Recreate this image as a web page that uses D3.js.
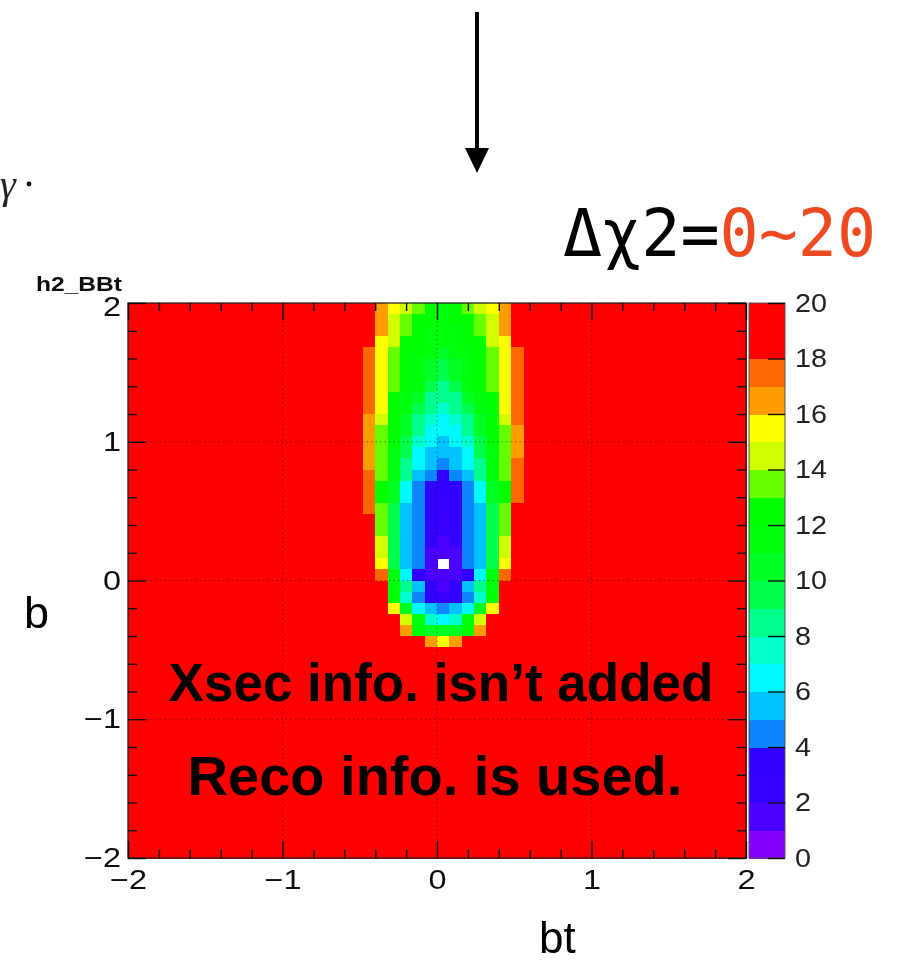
<!DOCTYPE html>
<html>
<head>
<meta charset="utf-8">
<script src="https://cdn.jsdelivr.net/npm/d3@7"></script>
<style>
  body { margin: 0; background: #fff; }
  svg { display: block; }
</style>
</head>
<body>
<svg id="chart" width="900" height="964"></svg>
<script>
// ---- Histogram h2_BBt : delta chi2 over (bt, b) ----
const btRange = [-2, 2];
const bRange = [-2, 2];
const nBins = 50;                 // bins per axis
const zMax = 20;                  // colour scale top; cells at or above it saturate
const firstTableCol = 18;         // bt bin index of the first column in chi2Rows
// Delta chi2 per bin, rows from b = 2 downwards, columns bt = -0.56 ... +0.64.
// Bins outside this table are at or above zMax.
const chi2Rows = [
  [20,20,16,15,14,13,12,11,12,13,14,15,16,20,20],
  [20,20,16,14,13,12,12,11,12,12,13,14,16,20,20],
  [20,20,16,14,13,12,11,11,11,12,13,14,16,20,20],
  [20,20,15,14,12,12,11,11,11,12,12,14,15,20,20],
  [20,17,15,13,12,11,11,10,11,11,12,13,15,17,20],
  [20,17,15,13,12,11,10, 9,10,11,12,13,15,17,20],
  [20,17,15,13,12,11,10, 9,10,11,12,13,15,17,20],
  [20,17,15,13,12,11, 9, 8, 9,11,12,13,15,17,20],
  [20,17,15,12,11,10, 8, 8, 8,10,11,12,15,17,20],
  [20,17,15,12,11, 9, 8, 7, 8, 9,11,12,15,17,20],
  [20,16,14,12,10, 8, 7, 6, 7, 8,10,12,14,17,20],
  [20,16,13,12,10, 8, 6, 6, 6, 8,10,12,13,16,20],
  [20,16,13,12, 9, 7, 6, 5, 6, 7, 9,12,13,16,20],
  [20,16,13,11, 9, 6, 5, 5, 5, 6, 9,11,13,16,20],
  [20,16,13,11, 8, 6, 5, 4, 5, 6, 8,11,13,17,20],
  [20,17,13,11, 8, 5, 4, 3, 4, 5, 8,11,13,17,20],
  [20,17,12,10, 6, 4, 3, 3, 3, 4, 6,10,12,17,20],
  [20,17,12,10, 6, 4, 3, 2, 3, 4, 6,10,12,17,20],
  [20,17,13, 9, 5, 4, 3, 2, 3, 4, 5, 9,13,20,20],
  [20,20,13, 9, 5, 4, 3, 2, 3, 4, 5, 9,13,20,20],
  [20,20,13, 9, 5, 4, 2, 2, 2, 4, 5, 9,13,20,20],
  [20,20,14, 9, 5, 4, 2, 1, 2, 4, 5, 9,14,20,20],
  [20,20,14, 9, 5, 4, 1, 1, 1, 4, 5, 9,14,20,20],
  [20,20,15, 9, 5, 4, 1, 0, 1, 4, 5, 9,15,20,20],
  [20,20,17,11, 6, 3, 1, 1, 1, 3, 6,11,17,20,20],
  [20,20,20,11, 8, 5, 3, 1, 3, 5, 8,11,20,20,20],
  [20,20,20,12, 7, 4, 3, 2, 3, 4, 7,12,20,20,20],
  [20,20,20,15,10, 6, 5, 4, 5, 6,10,15,20,20,20],
  [20,20,20,20,14,11, 7, 6, 7,11,14,20,20,20,20],
  [20,20,20,20,16,12,10,10,10,12,16,20,20,20,20],
  [20,20,20,20,20,20,16,15,16,20,20,20,20,20,20]
];
// One colour per unit of delta chi2 (0-1, 1-2, ... 19-20)
const levelColors = [
  "#8600ff", "#4a00ff", "#3400ff", "#3000ff", "#0a86ff",
  "#00c2ff", "#00f8ff", "#00ffcc", "#00ff8c", "#00ff4c",
  "#00ff22", "#00ff08", "#00ff00", "#66ff00", "#d0ff00",
  "#ffff00", "#ff9c00", "#ff6800", "#ff0000", "#ff0000"
];
const axisTicks = [-2, -1, 0, 1, 2];
const zTicks = [0, 2, 4, 6, 8, 10, 12, 14, 16, 18, 20];

const svg = d3.select("#chart");
const frame = { left: 128, right: 746, top: 303, bottom: 858 };
const x = d3.scaleLinear().domain(btRange).range([frame.left, frame.right]);
const y = d3.scaleLinear().domain(bRange).range([frame.bottom, frame.top]);
const z = d3.scaleLinear().domain([0, zMax]).range([frame.bottom, frame.top]);
const binW = (btRange[1] - btRange[0]) / nBins;
const binH = (bRange[1] - bRange[0]) / nBins;
const intFmt = d3.format("d");

// soft look of the exported histogram
const defs = svg.append("defs");
defs.append("filter").attr("id", "soft").attr("x", "-5%").attr("y", "-5%")
  .attr("width", "110%").attr("height", "110%")
  .append("feGaussianBlur").attr("stdDeviation", 0.7);

const plot = svg.append("g").attr("filter", "url(#soft)");

// all bins of the histogram
const cells = [];
for (let r = 0; r < nBins; r++) {
  for (let c = 0; c < nBins; c++) {
    const row = chi2Rows[r];
    const k = c - firstTableCol;
    const v = (row && k >= 0 && k < row.length) ? row[k] : zMax;
    cells.push({ bt0: btRange[0] + c * binW, b1: bRange[1] - r * binH, v });
  }
}
const colorOf = v => levelColors[Math.max(0, Math.min(levelColors.length - 1, Math.floor(v)))];

plot.append("g").selectAll("rect")
  .data(cells.filter(d => d.v > 0))
  .join("rect")
  .attr("x", d => x(d.bt0))
  .attr("y", d => y(d.b1))
  .attr("width", d => x(d.bt0 + binW) - x(d.bt0) + 0.5)
  .attr("height", d => y(d.b1 - binH) - y(d.b1) + 0.5)
  .attr("fill", d => colorOf(d.v))
  .attr("shape-rendering", "crispEdges");

// dotted grid at the major ticks
const grid = plot.append("g").attr("stroke", "#000").attr("stroke-opacity", 0.45)
  .attr("stroke-width", 1).attr("stroke-dasharray", "1.5,3");
grid.selectAll("line.v").data(axisTicks.slice(1, -1)).join("line")
  .attr("x1", d => x(d)).attr("x2", d => x(d)).attr("y1", frame.top).attr("y2", frame.bottom);
grid.selectAll("line.h").data(axisTicks.slice(1, -1)).join("line")
  .attr("y1", d => y(d)).attr("y2", d => y(d)).attr("x1", frame.left).attr("x2", frame.right);

// frame
plot.append("rect")
  .attr("x", frame.left).attr("y", frame.top)
  .attr("width", frame.right - frame.left).attr("height", frame.bottom - frame.top)
  .attr("fill", "none").attr("stroke", "#222").attr("stroke-width", 1.3);

const minorTicks = d3.range(-2, 2.0001, 0.2).map(v => +v.toFixed(1)).filter(v => !axisTicks.includes(v));

function styleAxis(g) {
  g.select(".domain").remove();
  g.selectAll(".tick line").attr("stroke", "#111").attr("stroke-width", 1.4);
  g.selectAll("text")
    .attr("font-family", "'Liberation Sans', Arial, sans-serif")
    .attr("font-size", 27).attr("fill", "#111");
}
function stretch(g, f) {
  g.selectAll("text").each(function () {
    const w = this.getComputedTextLength();
    d3.select(this).attr("textLength", w * f).attr("lengthAdjust", "spacingAndGlyphs");
  });
}

// bottom axis with labels
const gxb = plot.append("g").attr("transform", `translate(0,${frame.bottom})`)
  .call(d3.axisBottom(x).tickValues(axisTicks).tickFormat(intFmt).tickSize(-17).tickPadding(12));
styleAxis(gxb); stretch(gxb, 1.2);
plot.append("g").attr("transform", `translate(0,${frame.bottom})`)
  .call(d3.axisBottom(x).tickValues(minorTicks).tickSize(-8).tickFormat(""))
  .call(styleAxis);
// top axis, ticks only
plot.append("g").attr("transform", `translate(0,${frame.top})`)
  .call(d3.axisTop(x).tickValues(axisTicks).tickSize(-17).tickFormat(""))
  .call(styleAxis);
plot.append("g").attr("transform", `translate(0,${frame.top})`)
  .call(d3.axisTop(x).tickValues(minorTicks).tickSize(-8).tickFormat(""))
  .call(styleAxis);
// left axis with labels
const gyl = plot.append("g").attr("transform", `translate(${frame.left},0)`)
  .call(d3.axisLeft(y).tickValues(axisTicks).tickFormat(intFmt).tickSize(-18).tickPadding(7));
styleAxis(gyl); stretch(gyl, 1.2);
// top label sits a little lower, just under the histogram name
gyl.selectAll(".tick").filter(d => d === bRange[1]).select("text").attr("dy", "0.45em");
plot.append("g").attr("transform", `translate(${frame.left},0)`)
  .call(d3.axisLeft(y).tickValues(minorTicks).tickSize(-9).tickFormat(""))
  .call(styleAxis);
// right axis, ticks only
plot.append("g").attr("transform", `translate(${frame.right},0)`)
  .call(d3.axisRight(y).tickValues(axisTicks).tickSize(-18).tickFormat(""))
  .call(styleAxis);
plot.append("g").attr("transform", `translate(${frame.right},0)`)
  .call(d3.axisRight(y).tickValues(minorTicks).tickSize(-9).tickFormat(""))
  .call(styleAxis);

// colour bar
const bar = { left: 749, right: 785 };
plot.append("g").selectAll("rect")
  .data(d3.range(levelColors.length))
  .join("rect")
  .attr("x", bar.left).attr("width", bar.right - bar.left)
  .attr("y", k => z(k + 1)).attr("height", k => z(k) - z(k + 1) + 0.5)
  .attr("fill", k => levelColors[k]).attr("shape-rendering", "crispEdges");
plot.append("rect")
  .attr("x", bar.left).attr("y", frame.top)
  .attr("width", bar.right - bar.left).attr("height", frame.bottom - frame.top)
  .attr("fill", "none").attr("stroke", "#555").attr("stroke-width", 1);
const gz = plot.append("g").attr("transform", `translate(${bar.right},0)`)
  .call(d3.axisRight(z).tickValues(zTicks).tickSize(-17).tickPadding(10));
styleAxis(gz);
gz.selectAll("text").attr("font-size", 25).attr("fill", "#222");
stretch(gz, 1.15);

// histogram name
plot.append("text")
  .attr("x", 36).attr("y", 291)
  .attr("font-family", "'Liberation Sans', Arial, sans-serif")
  .attr("font-weight", "bold").attr("font-size", 20).attr("fill", "#111")
  .attr("textLength", 86).attr("lengthAdjust", "spacingAndGlyphs")
  .text("h2_BBt");

// ---- annotations ----
const sans = "'Liberation Sans', Arial, Helvetica, sans-serif";

// arrow from above
svg.append("line").attr("x1", 477).attr("x2", 477).attr("y1", 12).attr("y2", 152)
  .attr("stroke", "#000").attr("stroke-width", 4);
svg.append("path").attr("d", "M465,148 L489,148 L477,173 Z").attr("fill", "#000");

// fragment of a formula at the left margin
svg.append("text").attr("x", 0).attr("y", 198)
  .attr("font-family", "'Liberation Serif', 'DejaVu Serif', serif")
  .attr("font-style", "italic").attr("font-size", 40).attr("fill", "#222").text("γ");
svg.append("circle").attr("cx", 29).attr("cy", 184).attr("r", 2.4).attr("fill", "#111");

// range of the colour scale
const rangeText = svg.append("text").attr("x", 563).attr("y", 256)
  .attr("font-family", "'DejaVu Sans Mono', monospace").attr("font-size", 65);
rangeText.append("tspan").attr("fill", "#000").text("Δχ2=");
rangeText.append("tspan").attr("fill", "#ee4a22").text("0~20");

// axis titles
svg.append("text").attr("x", 24).attr("y", 628)
  .attr("font-family", sans).attr("font-size", 45).attr("fill", "#000").text("b");
svg.append("text").attr("x", 539).attr("y", 953)
  .attr("font-family", sans).attr("font-size", 44).attr("fill", "#000").text("bt");

// notes on the plot
svg.append("text").attr("x", 441).attr("y", 701).attr("text-anchor", "middle")
  .attr("font-family", sans).attr("font-weight", "bold").attr("font-size", 53)
  .attr("fill", "#000").text("Xsec info. isn’t added");
svg.append("text").attr("x", 435).attr("y", 795).attr("text-anchor", "middle")
  .attr("font-family", sans).attr("font-weight", "bold").attr("font-size", 56)
  .attr("fill", "#000").text("Reco info. is used.");
</script>
</body>
</html>
